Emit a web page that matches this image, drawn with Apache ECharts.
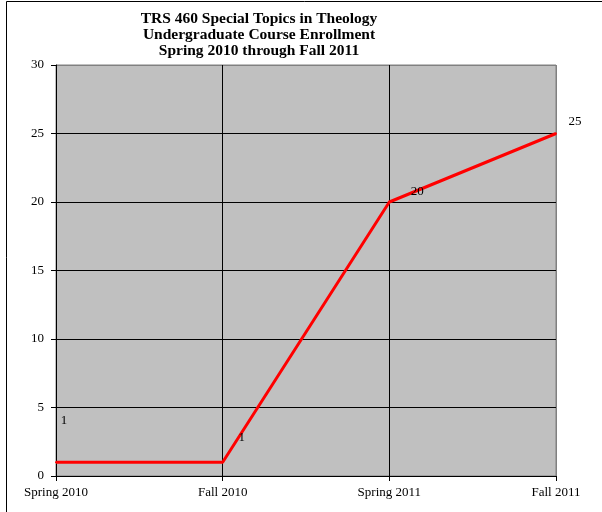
<!DOCTYPE html>
<html>
<head>
<meta charset="utf-8">
<script src="https://cdn.jsdelivr.net/npm/echarts@6/dist/echarts.min.js"></script>
<style>
  html, body { margin: 0; padding: 0; background: #fff; }
  #main { width: 602px; height: 512px; }
</style>
</head>
<body>
<div id="main"></div>
<script>
const terms = ['Spring 2010', 'Fall 2010', 'Spring 2011', 'Fall 2011']
const enrollment = [1, 1, 20, 25]
const yTicks = [0, 5, 10, 15, 20, 25, 30]

// excel put the data labels in odd places, copy that
const labelOffsets = [[8, -42], [19, -25], [28, -10], [19, -12]]

var myChart = echarts.init(document.getElementById('main'))

const font = '"Liberation Serif", "Times New Roman", serif'

// last grid line sits on the plot border, which is grey in the original
const yGridColors = yTicks.map((t, i) => i === yTicks.length - 1 ? '#808080' : '#000')
const xGridColors = terms.map((t, i) => i === terms.length - 1 ? '#808080' : '#000')

option = {
  animation: false,
  textStyle: { fontFamily: font },
  title: {
    text: 'TRS 460 Special Topics in Theology\nUndergraduate Course Enrollment\nSpring 2010 through Fall 2011',
    left: 254,
    top: 6,
    textAlign: 'center',
    textStyle: {
      fontFamily: font,
      fontSize: 15.5,
      fontWeight: 'bold',
      color: '#000',
      lineHeight: 16
    }
  },
  graphic: [
    {
      type: 'rect',
      shape: { x: 6.5, y: 1.5, width: 700, height: 600 },
      style: { fill: 'none', stroke: '#000', lineWidth: 1 },
      silent: true
    }
  ],
  grid: {
    left: 56,
    right: 46,
    top: 65,
    bottom: 36,
    show: true,
    backgroundColor: '#c0c0c0',
    borderColor: '#808080',
    borderWidth: 1
  },
  xAxis: {
    type: 'category',
    data: terms,
    boundaryGap: false,
    axisLine: { lineStyle: { color: '#000', width: 1 } },
    axisTick: { show: true, length: 5, lineStyle: { color: '#000' } },
    axisLabel: { color: '#000', fontSize: 13, margin: 10, fontFamily: font },
    splitLine: { show: true, lineStyle: { color: xGridColors, width: 1 } }
  },
  yAxis: {
    type: 'value',
    min: yTicks[0],
    max: yTicks[yTicks.length - 1],
    interval: yTicks[1] - yTicks[0],
    axisLine: { show: true, lineStyle: { color: '#000', width: 1 } },
    axisTick: { show: true, length: 5, lineStyle: { color: '#000' } },
    axisLabel: { color: '#000', fontSize: 13, margin: 12, fontFamily: font },
    splitLine: { show: true, lineStyle: { color: yGridColors, width: 1 } }
  },
  series: [
    {
      name: 'Enrollment',
      type: 'line',
      data: enrollment.map((v, i) => ({
        value: v,
        label: { offset: labelOffsets[i] }
      })),
      symbol: 'circle',
      symbolSize: 2,
      showSymbol: true,
      lineStyle: { color: '#ff0000', width: 3 },
      itemStyle: { color: '#ff0000' },
      label: {
        show: true,
        position: 'inside',
        color: '#000',
        fontSize: 13,
        fontFamily: font
      }
    }
  ]
}

myChart.setOption(option)
</script>
</body>
</html>
